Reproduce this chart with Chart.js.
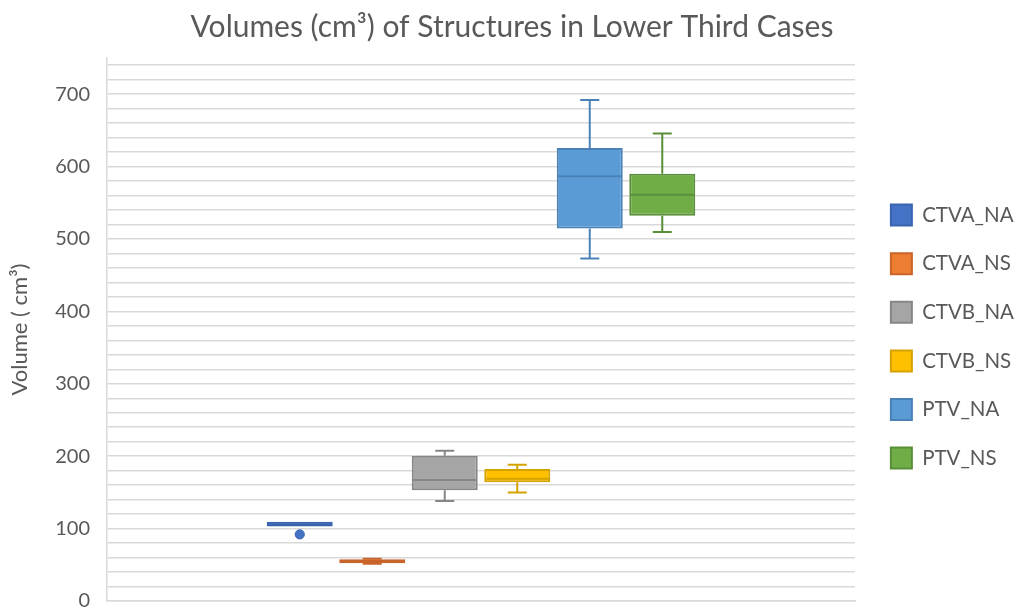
<!DOCTYPE html>
<html>
<head>
<meta charset="utf-8">
<script src="https://cdn.jsdelivr.net/npm/chart.js@4/dist/chart.umd.min.js"></script>
<style>
  html, body { margin: 0; padding: 0; background: #ffffff; }
  #wrap { width: 1016px; height: 612px; }
</style>
</head>
<body>
<div id="wrap"><canvas id="chart" width="1016" height="612"></canvas></div>
<script>
// Box-plot statistics per structure (cm³)
const seriesNames   = ['CTVA_NA', 'CTVA_NS', 'CTVB_NA', 'CTVB_NS', 'PTV_NA', 'PTV_NS'];
const q1Values      = [103,   52.2, 152.8, 163.9, 514.6, 532];
const q3Values      = [109.5, 57.6, 200.6, 182.2, 625.8, 590];
const medianValues  = [106,   55,   167,   168.9, 586.8, 561];
const minValues     = [103,   51.5, 138,   150,   473.1, 509.5];
const maxValues     = [109.5, 58.5, 207.5, 188.2, 692.1, 645.7];
const outlierValues = [[92], [], [], [], [], []];
const categoryLabels = [''];

const fillColors = ['#4472C4', '#ED7D31', '#A5A5A5', '#FFC000', '#5B9BD5', '#70AD47'];
const lineColors = ['#3A64B0', '#C9642A', '#868686', '#D6A200', '#4A82B8', '#5A8F3A'];

const FONT = 'Lato, "Open Sans", sans-serif';
const TEXT = '#595959';
const GRID = '#d9d9d9';
const PLOT_RIGHT = 855;
const PAD_RIGHT = -8;

// Median line, whiskers with caps and outlier dots drawn on top of each box
const boxPlotParts = {
  id: 'boxPlotParts',
  afterDatasetsDraw(chart) {
    const ctx = chart.ctx;
    const y = chart.scales.y;
    chart.data.datasets.forEach((ds, i) => {
      const meta = chart.getDatasetMeta(i);
      if (meta.hidden) return;
      const bar = meta.data[0];
      const cx = bar.x;
      const half = bar.width / 2;
      const capHalf = 9.5;
      ctx.save();
      ctx.strokeStyle = lineColors[i];
      ctx.lineWidth = 2;
      const ym = y.getPixelForValue(medianValues[i]);
      ctx.beginPath();
      ctx.moveTo(cx - half + 1, ym);
      ctx.lineTo(cx + half - 1, ym);
      ctx.stroke();
      [[q3Values[i], maxValues[i]], [q1Values[i], minValues[i]]].forEach(([edge, end]) => {
        if (end === edge) return;
        const y0 = y.getPixelForValue(edge);
        const y1 = y.getPixelForValue(end);
        ctx.beginPath();
        ctx.moveTo(cx, y0);
        ctx.lineTo(cx, y1);
        ctx.moveTo(cx - capHalf, y1);
        ctx.lineTo(cx + capHalf, y1);
        ctx.stroke();
      });
      ctx.fillStyle = fillColors[i];
      outlierValues[i].forEach(v => {
        ctx.beginPath();
        ctx.arc(cx, y.getPixelForValue(v), 4.6, 0, Math.PI * 2);
        ctx.fill();
        ctx.lineWidth = 1;
        ctx.stroke();
      });
      ctx.restore();
    });
  }
};

const datasets = seriesNames.map((name, i) => ({
  label: name,
  data: [[q1Values[i], q3Values[i]]],
  backgroundColor: fillColors[i],
  borderColor: lineColors[i],
  borderWidth: 2,
  borderSkipped: false,
  categoryPercentage: 0.5816,
  barPercentage: 0.91
}));

new Chart(document.getElementById('chart'), {
  type: 'bar',
  data: { labels: categoryLabels, datasets },
  plugins: [boxPlotParts],
  options: {
    responsive: false,
    devicePixelRatio: 1,
    animation: false,
    layout: { padding: { left: 0, top: 0, bottom: 0, right: PAD_RIGHT } },
    plugins: {
      tooltip: { enabled: false },
      title: {
        display: true,
        text: 'Volumes (cm³) of Structures in Lower Third Cases',
        color: TEXT,
        font: { family: FONT, size: 30, weight: 'normal' },
        padding: { top: 9, bottom: 13 }
      },
      legend: {
        position: 'right',
        fullSize: false,
        title: { display: true, text: '', font: { size: 1 }, padding: { top: 13, bottom: 0 } },
        labels: {
          color: TEXT,
          font: { family: FONT, size: 20.5 },
          boxWidth: 21,
          boxHeight: 21,
          padding: 27.6
        }
      }
    },
    scales: {
      x: {
        grid: { display: false },
        ticks: { display: false },
        border: { display: true, color: GRID, width: 1.5 },
        afterFit(s) { s.height = 11; }
      },
      y: {
        min: 0,
        max: 750,
        grid: { color: GRID, lineWidth: 1.5, drawTicks: false },
        border: { display: true, color: GRID, width: 1.5 },
        ticks: {
          stepSize: 20,
          includeBounds: false,
          autoSkip: false,
          padding: 17,
          color: TEXT,
          font: { family: FONT, size: 20 },
          callback: v => (v % 100 === 0 ? v : '')
        },
        title: {
          display: true,
          text: 'Volume ( cm³)',
          color: TEXT,
          font: { family: FONT, size: 22 },
          padding: { top: 7, bottom: 0 }
        },
        afterFit(s) {
          s.width = 107;
          s.paddingTop = 0;
          s.paddingBottom = 0;
        }
      },
      gap: {
        type: 'linear',
        position: 'right',
        display: true,
        grid: { display: false },
        ticks: { display: false },
        border: { display: false },
        afterFit(s) {
          const lw = s.chart.legend && s.chart.legend.width;
          s.width = lw ? Math.max(0, s.chart.width - PAD_RIGHT - lw - PLOT_RIGHT) : 8.5;
        }
      }
    }
  }
});
</script>
</body>
</html>
